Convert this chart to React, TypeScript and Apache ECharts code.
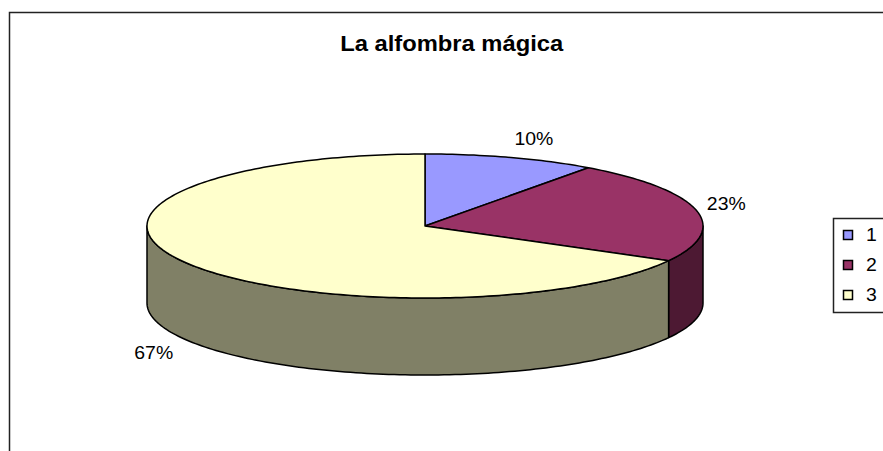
import React, { useEffect, useRef } from "react";
import * as echarts from "echarts";

const title = "La alfombra mágica";
const categories = ["1", "2", "3"];
const values = [10, 23, 67];
const labels = ["10%", "23%", "67%"];
const topColors = ["#9999FF", "#993366", "#FFFFCC"];
const sideColors = ["#4C4C80", "#4D1933", "#808066"];
// label offsets (px) from the slice's mid-point on the top rim
const labelOffsets = [
  [23, -19],
  [30, -7],
  [-32, 90],
];

const FONT = "'Liberation Sans', Arial, sans-serif";
const CX = 425;
const CY = 226;
const RX = 278;
const RY = 72;
const DEPTH = 77;

function pt(a: number, dy: number): number[] {
  return [CX + RX * Math.sin(a), CY - RY * Math.cos(a) + dy];
}

function arc(a0: number, a1: number, dy: number): number[][] {
  const pts: number[][] = [];
  const n = Math.max(2, Math.ceil(Math.abs(a1 - a0) / 0.02));
  for (let i = 0; i <= n; i++) {
    pts.push(pt(a0 + ((a1 - a0) * i) / n, dy));
  }
  return pts;
}

function angles(i: number): [number, number] {
  const total = values.reduce((s, v) => s + v, 0);
  let cum = 0;
  for (let k = 0; k < i; k++) cum += values[k];
  const a0 = (cum / total) * Math.PI * 2;
  const a1 = ((cum + values[i]) / total) * Math.PI * 2;
  return [a0, a1];
}

export default function App() {
  const ref = useRef<HTMLDivElement>(null);
  useEffect(() => {
    if (!ref.current) return;
    const chart = echarts.init(ref.current, undefined, { renderer: "svg" });
    const data = values.map((v, i) => [i, v]);

    const legendItems: any[] = [];
    categories.forEach((c, i) => {
      const y = 235 + i * 30;
      legendItems.push({
        type: "rect",
        shape: { x: 843.5, y: y - 4.5, width: 9, height: 9 },
        style: { fill: topColors[i], stroke: "#000", lineWidth: 1.5 },
      });
      legendItems.push({
        type: "text",
        x: 866,
        y: y,
        scaleX: 1.08,
        style: {
          x: 0,
          y: 0,
          text: c,
          fill: "#000",
          font: `18px ${FONT}`,
          verticalAlign: "middle",
          align: "left",
        },
      });
    });

    chart.setOption({
      animation: false,
      backgroundColor: "#fff",
      graphic: [
        {
          type: "rect",
          shape: { x: 9.5, y: 12.5, width: 1000, height: 1000 },
          style: { fill: "none", stroke: "#222", lineWidth: 1.5 },
          z: 0,
        },
        {
          type: "text",
          x: 451.7,
          y: 43,
          scaleX: 1.08,
          style: {
            x: 0,
            y: 0,
            text: title,
            fill: "#000",
            font: `bold 22px ${FONT}`,
            align: "center",
            verticalAlign: "middle",
          },
          z: 5,
        },
        {
          type: "rect",
          shape: { x: 833.5, y: 218.5, width: 100, height: 94 },
          style: { fill: "#fff", stroke: "#222", lineWidth: 1.5 },
          z: 5,
        },
        ...legendItems.map((e) => ({ ...e, z: 6 })),
      ],
      series: [
        {
          type: "custom",
          coordinateSystem: "none",
          z: 2,
          data,
          renderItem: (params: any) => {
            const i = params.dataIndex;
            const [a0, a1] = angles(i);
            const s = Math.max(a0, Math.PI / 2);
            const e = Math.min(a1, (Math.PI * 3) / 2);
            if (e <= s) return { type: "group", children: [] };
            const top = arc(s, e, 0);
            const bottom = arc(e, s, DEPTH);
            return {
              type: "polygon",
              shape: { points: top.concat(bottom) },
              style: { fill: sideColors[i], stroke: "#000", lineWidth: 1.5, lineJoin: "round" },
            };
          },
        },
        {
          type: "custom",
          coordinateSystem: "none",
          z: 3,
          data,
          renderItem: (params: any) => {
            const i = params.dataIndex;
            const [a0, a1] = angles(i);
            const pts = [[CX, CY]].concat(arc(a0, a1, 0));
            const mid = (a0 + a1) / 2;
            const m = pt(mid, 0);
            return {
              type: "group",
              children: [
                {
                  type: "polygon",
                  shape: { points: pts },
                  style: { fill: topColors[i], stroke: "#000", lineWidth: 1.5, lineJoin: "round" },
                },
                {
                  type: "text",
                  x: m[0] + labelOffsets[i][0],
                  y: m[1] + labelOffsets[i][1],
                  scaleX: 1.08,
                  style: {
                    x: 0,
                    y: 0,
                    text: labels[i],
                    fill: "#000",
                    font: `18px ${FONT}`,
                    align: "center",
                    verticalAlign: "middle",
                  },
                },
              ],
            };
          },
        },
      ],
    });
    return () => chart.dispose();
  }, []);
  return (
    <div
      ref={ref}
      style={{ position: "fixed", left: 0, top: 0, width: 883, height: 451 }}
    />
  );
}
